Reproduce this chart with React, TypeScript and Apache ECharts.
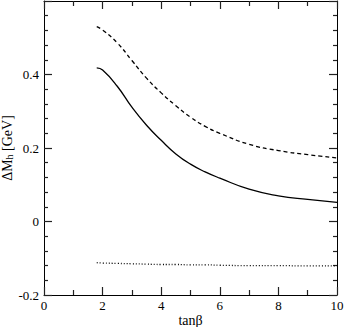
import React, { useEffect, useRef } from "react";
import * as echarts from "echarts";

const tanBeta = [1.8, 2.0, 2.5, 3.0, 3.5, 4.0, 4.5, 5.0, 5.5, 6.0, 7.0, 8.0, 9.0, 10.0];
const solidValues = [0.418, 0.412, 0.368, 0.311, 0.262, 0.221, 0.184, 0.156, 0.135, 0.118, 0.088, 0.07, 0.06, 0.052];
const dashedValues = [0.53, 0.521, 0.486, 0.438, 0.39, 0.35, 0.315, 0.284, 0.259, 0.24, 0.21, 0.193, 0.182, 0.173];
const dottedValues = [-0.112, -0.113, -0.114, -0.115, -0.116, -0.117, -0.117, -0.118, -0.118, -0.119, -0.12, -0.12, -0.121, -0.121];

const FONT = "'Liberation Serif', 'Times New Roman', serif";

export default function App() {
  const ref = useRef<HTMLDivElement>(null);
  useEffect(() => {
    document.body.style.margin = "0";
    const chart = echarts.init(ref.current!, undefined, { renderer: "svg" });
    const pairs = (ys: number[]) => tanBeta.map((x, i) => [x, ys[i]]);
    const lineSeries = (ys: number[], type: any) => ({
      type: "line",
      data: pairs(ys),
      showSymbol: false,
      smooth: true,
      lineStyle: { color: "#000", width: 1.3, type },
    });
    const axisLine = { show: true, onZero: false, lineStyle: { color: "#000", width: 1 } };
    const tickStyle = { color: "#222", width: 1.2 };
    const majorTick = { show: true, inside: true, length: 8, lineStyle: tickStyle };
    chart.setOption({
      animation: false,
      grid: { left: 44, right: 7, top: 1, bottom: 32, outerBoundsMode: "none", containLabel: false },
      xAxis: [
        {
          type: "value",
          min: 0,
          max: 10,
          interval: 2,
          axisLine,
          splitLine: { show: false },
          axisTick: majorTick,
          minorTick: { show: true, splitNumber: 2, length: 5, lineStyle: tickStyle },
          axisLabel: { color: "#000", fontFamily: FONT, fontSize: 13, margin: 4 },
          name: "tanβ",
          nameLocation: "middle",
          nameGap: 18,
          nameMoveOverlap: false,
          nameTextStyle: { color: "#000", fontFamily: FONT, fontSize: 14 },
        },
        {
          type: "value",
          position: "top",
          min: 0,
          max: 10,
          interval: 2,
          axisLine,
          splitLine: { show: false },
          axisTick: majorTick,
          minorTick: { show: true, splitNumber: 2, length: 5, lineStyle: tickStyle },
          axisLabel: { show: false },
        },
      ],
      yAxis: [
        {
          type: "value",
          min: -0.2,
          max: 0.6,
          interval: 0.2,
          axisLine,
          splitLine: { show: false },
          axisTick: majorTick,
          minorTick: { show: true, splitNumber: 5, length: 4, lineStyle: tickStyle },
          axisLabel: {
            color: "#000",
            fontFamily: FONT,
            fontSize: 13,
            margin: 5,
            formatter: (v: number) => {
              if (Math.abs(v - 0.6) < 1e-6) return "";
              const r = Math.round(v * 10) / 10;
              return r === 0 ? "0" : String(r);
            },
          },
          name: "{a|ΔM}{s|h}{a| [GeV]}",
          nameLocation: "middle",
          nameGap: 30,
          nameMoveOverlap: false,
          nameTextStyle: {
            color: "#000",
            fontFamily: FONT,
            fontSize: 14,
            rich: {
              a: { fontFamily: FONT, fontSize: 14, color: "#000", lineHeight: 14 },
              s: { fontFamily: FONT, fontSize: 10, color: "#000", lineHeight: 14, padding: [5, 0, 0, 0] },
            },
          },
        },
        {
          type: "value",
          position: "right",
          min: -0.2,
          max: 0.6,
          interval: 0.2,
          axisLine,
          splitLine: { show: false },
          axisTick: majorTick,
          minorTick: { show: true, splitNumber: 5, length: 4, lineStyle: tickStyle },
          axisLabel: { show: false },
        },
      ],
      series: [
        lineSeries(dashedValues, [4, 3]),
        lineSeries(solidValues, "solid"),
        lineSeries(dottedValues, [1, 2]),
      ],
    });
    return () => chart.dispose();
  }, []);
  return <div ref={ref} style={{ width: 344, height: 327 }} />;
}
